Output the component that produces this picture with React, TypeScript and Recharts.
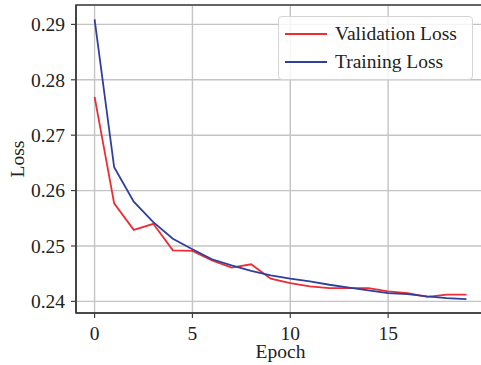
import React from "react";
import {
  LineChart,
  Line,
  XAxis,
  YAxis,
  CartesianGrid,
  ReferenceArea,
} from "recharts";

const epochs = [0, 1, 2, 3, 4, 5, 6, 7, 8, 9, 10, 11, 12, 13, 14, 15, 16, 17, 18, 19];
const validationLoss = [
  0.2769, 0.2577, 0.2529, 0.254, 0.2492, 0.2491, 0.2474, 0.2461, 0.2467, 0.2441,
  0.2433, 0.2427, 0.2424, 0.2424, 0.2424, 0.2418, 0.2415, 0.2408, 0.2412, 0.2412,
];
const trainingLoss = [
  0.2909, 0.2642, 0.258, 0.2543, 0.2513, 0.2494, 0.2476, 0.2465, 0.2455, 0.2447,
  0.2441, 0.2436, 0.243, 0.2425, 0.242, 0.2415, 0.2413, 0.2409, 0.2406, 0.2404,
];
const xTicks = [0, 5, 10, 15];
const yTicks = [0.24, 0.25, 0.26, 0.27, 0.28, 0.29];
const seriesNames = ["Validation Loss", "Training Loss"];

const data = epochs.map((e, i) => ({
  epoch: e,
  val: validationLoss[i],
  train: trainingLoss[i],
}));

const FONT = '"Liberation Serif", "Times New Roman", serif';
const RED = "#ee2c34";
const BLUE = "#2f3f9f";
const SPINE = "#404040";
const colors = [RED, BLUE];

export default function App() {
  return (
    <div
      style={{
        position: "absolute",
        left: 0,
        top: 0,
        width: 481,
        height: 365,
        overflow: "hidden",
        background: "#fff",
      }}
    >
      <LineChart
        width={489}
        height={365}
        data={data}
        margin={{ top: 5, right: 4, left: 0, bottom: 0 }}
      >
        <CartesianGrid stroke="#c4c4c4" strokeWidth={1.4} />
        <ReferenceArea
          x1={-0.95}
          x2={19.95}
          y1={0.2379}
          y2={0.2935}
          fill="none"
          stroke={SPINE}
          strokeWidth={1.6}
          ifOverflow="visible"
        />
        <XAxis
          dataKey="epoch"
          type="number"
          domain={[-0.95, 19.95]}
          ticks={xTicks}
          allowDataOverflow
          height={52}
          tickSize={5}
          tickMargin={8}
          stroke={SPINE}
          strokeWidth={1.6}
          tick={{ fill: "#222", fontFamily: FONT, fontSize: 19.5 }}
          tickLine={{ stroke: SPINE, strokeWidth: 1.2 }}
          label={(props: any) => {
            const vb = props.viewBox;
            return (
              <text
                x={vb.x + vb.width / 2}
                y={vb.y + 45}
                textAnchor="middle"
                fill="#222"
                fontFamily={FONT}
                fontSize={19.5}
              >
                Epoch
              </text>
            );
          }}
        />
        <YAxis
          type="number"
          domain={[0.2379, 0.2935]}
          ticks={yTicks}
          allowDataOverflow
          width={76}
          tickSize={5}
          tickMargin={6}
          stroke={SPINE}
          strokeWidth={1.6}
          tickFormatter={(v: number) => v.toFixed(2)}
          tick={{ fill: "#222", fontFamily: FONT, fontSize: 19.5 }}
          tickLine={{ stroke: SPINE, strokeWidth: 1.2 }}
          label={(props: any) => {
            const vb = props.viewBox;
            const cy = vb.y + vb.height / 2;
            return (
              <text
                x={17}
                y={cy}
                transform={`rotate(-90, 17, ${cy})`}
                textAnchor="middle"
                dominantBaseline="central"
                fill="#222"
                fontFamily={FONT}
                fontSize={19.5}
              >
                Loss
              </text>
            );
          }}
        />
        <Line
          dataKey="val"
          name={seriesNames[0]}
          stroke={RED}
          strokeWidth={1.8}
          dot={false}
          isAnimationActive={false}
        />
        <Line
          dataKey="train"
          name={seriesNames[1]}
          stroke={BLUE}
          strokeWidth={1.8}
          dot={false}
          isAnimationActive={false}
        />
      </LineChart>
      <div
        style={{
          position: "absolute",
          left: 278,
          top: 16,
          width: 195,
          height: 64,
          boxSizing: "border-box",
          border: "1px solid #d4d4d4",
          borderRadius: 4,
          background: "rgba(255,255,255,0.82)",
          fontFamily: FONT,
          fontSize: 19.5,
          color: "#222",
          paddingTop: 3,
        }}
      >
        {seriesNames.map((label, i) => (
          <div key={label} style={{ display: "flex", alignItems: "center", height: 28 }}>
            <svg width={56} height={10} style={{ flex: "none" }}>
              <line x1={6} x2={48} y1={5} y2={5} stroke={colors[i]} strokeWidth={1.8} />
            </svg>
            <span style={{ lineHeight: "28px" }}>{label}</span>
          </div>
        ))}
      </div>
    </div>
  );
}
